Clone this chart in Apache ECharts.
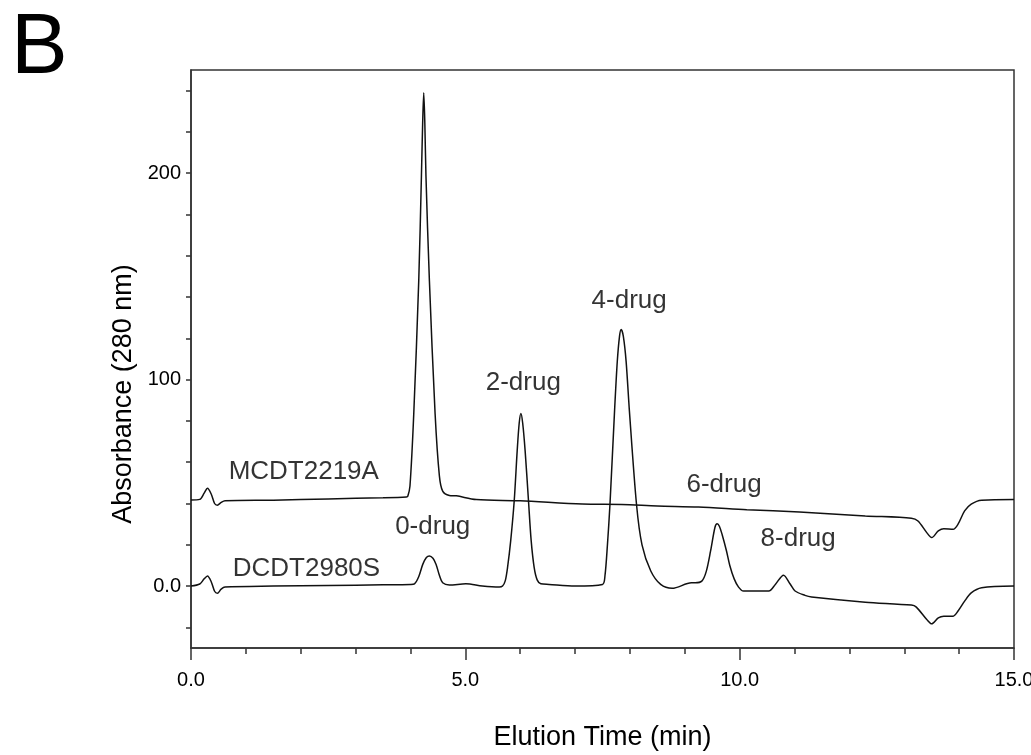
<!DOCTYPE html>
<html>
<head>
<meta charset="utf-8">
<script src="https://cdn.jsdelivr.net/npm/echarts@6/dist/echarts.min.js"></script>
<style>
html,body{margin:0;padding:0;background:#fff;}
#chart{width:1031px;height:755px;}
</style>
</head>
<body>
<div id="chart"></div>
<script>
// ---- data ----
const mcdtTime = [0.00,0.16,0.24,0.30,0.37,0.43,0.48,0.55,0.62,1.50,2.50,3.50,3.927,3.951,3.991,4.06,4.151,4.20,4.222,4.242,4.262,4.282,4.345,4.449,4.527,4.587,4.709,4.836,5.20,6.00,7.13,7.85,8.50,9.25,10.13,11.09,12.29,13.13,13.25,13.41,13.50,13.62,13.72,13.89,13.98,14.10,14.22,14.41,15.00];
const mcdtAbs  = [41.7,42.0,45.0,47.4,44.5,40.0,39.2,40.5,41.3,41.6,42.2,42.8,43.2,43.5,48.5,83.5,148,199,224,239,224,199,148,83.5,53.4,46.0,43.9,43.7,41.9,41.3,39.7,39.5,38.8,38.3,37.0,35.9,34.0,32.9,31.5,25.9,23.5,26.7,27.8,27.5,30.0,36.4,39.7,41.6,41.9];

const dcdtTime = [0.00,0.16,0.24,0.30,0.37,0.43,0.48,0.55,0.62,1.50,2.50,3.50,4.00,4.073,4.15,4.224,4.29,4.345,4.41,4.467,4.53,4.587,4.709,5.01,5.31,5.62,5.678,5.727,5.769,5.827,5.891,5.945,5.982,6.013,6.045,6.09,6.151,6.20,6.255,6.309,6.376,6.527,7.00,7.50,7.545,7.59,7.636,7.72,7.77,7.81,7.84,7.88,7.93,7.99,8.12,8.22,8.38,8.56,8.77,9.12,9.19,9.31,9.39,9.47,9.55,9.59,9.63,9.68,9.76,9.82,9.90,9.98,10.07,10.53,10.65,10.80,10.92,11.01,11.19,11.31,12.29,13.13,13.22,13.41,13.50,13.62,13.72,13.89,13.98,14.10,14.22,14.41,15.00];
const dcdtAbs  = [0.0,1.0,3.5,4.9,2.0,-2.5,-3.5,-1.5,-0.5,0.0,0.3,0.6,0.8,1.1,4.5,10.5,13.8,14.6,13.5,10.5,5.0,1.6,0.5,1.1,0.0,-0.5,0.0,2.5,8.9,22,41.3,65.5,79,83.6,79,65.5,41.3,22,8.9,3.0,1.1,0.8,0.0,0.8,5.0,20,39.5,85,109,121,124.3,121,109,85,39.5,20,7.3,0.8,-1.1,1.6,1.6,2.4,7.0,17,28.5,30.2,29.0,25,17,10,3.5,-0.5,-2.4,-2.4,0.8,5.3,1.0,-2.4,-4.5,-5.3,-7.8,-9.2,-10.2,-16.2,-18.3,-15.4,-14.6,-14.6,-12.1,-7.3,-3.3,-0.8,0.0];

const annoText = ['MCDT2219A','DCDT2980S','0-drug','2-drug','4-drug','6-drug','8-drug'];
const annoTime = [0.695,0.77,3.73,5.38,7.31,9.04,10.39];
const annoAbs  = [55.3,8.25,28.3,98,137.7,48.8,22.5];

const xTickLabels = [0,5,10,15];
const yTickValues = [-20,0,20,40,60,80,100,120,140,160,180,200,220,240];
const yLabelValues = [0,100,200];

// ---- build ----
const pair = (ts, vs) => ts.map((t, i) => [t, vs[i]]);
const FONT = '"Liberation Sans", Arial, Helvetica, sans-serif';
const INK = '#000';
const AXIS = '#333';

const chart = echarts.init(document.getElementById('chart'), null, {renderer: 'canvas'});
chart.setOption({
  backgroundColor: '#fff',
  animation: false,
  textStyle: {fontFamily: FONT},
  title: {
    text: 'B', left: 6, top: 2,
    textStyle: {fontSize: 85, fontWeight: 'normal', color: '#000', fontFamily: FONT}
  },
  grid: {
    left: 191, right: 17, top: 70, bottom: 107,
    outerBoundsMode: 'none', containLabel: false,
    show: true, borderColor: AXIS, borderWidth: 1.5, backgroundColor: 'transparent'
  },
  xAxis: {
    type: 'value', min: 0, max: 15, interval: 5,
    name: 'Elution Time (min)', nameLocation: 'middle', nameGap: 76,
    nameTextStyle: {fontSize: 27, color: INK, fontFamily: FONT},
    axisLine: {show: true, onZero: false, lineStyle: {color: AXIS, width: 1.5}},
    axisTick: {show: true, inside: false, length: 12, lineStyle: {color: AXIS, width: 1.5}},
    minorTick: {show: true, splitNumber: 5, length: 6, lineStyle: {color: AXIS, width: 1.5}},
    splitLine: {show: false}, minorSplitLine: {show: false},
    axisLabel: {
      margin: 22, fontSize: 20, color: INK, fontFamily: FONT,
      formatter: v => (xTickLabels.indexOf(v) >= 0 ? v.toFixed(1) : '')
    }
  },
  yAxis: {
    type: 'value', min: -30, max: 250,
    name: 'Absorbance (280 nm)', nameLocation: 'middle', nameGap: 52, nameRotate: 90,
    nameTextStyle: {fontSize: 27, color: INK, fontFamily: FONT, padding: [0, 70, 0, 0]},
    axisLine: {show: true, onZero: false, lineStyle: {color: AXIS, width: 1.5}},
    axisTick: {show: true, inside: false, length: 5, customValues: yTickValues, lineStyle: {color: AXIS, width: 1.5}},
    splitLine: {show: false},
    axisLabel: {
      margin: 10, fontSize: 20, color: INK, fontFamily: FONT,
      customValues: yLabelValues,
      formatter: v => (v === 0 ? '0.0' : String(v))
    }
  },
  series: [
    {
      name: 'MCDT2219A', type: 'line', data: pair(mcdtTime, mcdtAbs),
      showSymbol: false, smooth: 0.3, clip: true,
      lineStyle: {color: '#111', width: 1.5}
    },
    {
      name: 'DCDT2980S', type: 'line', data: pair(dcdtTime, dcdtAbs),
      showSymbol: false, smooth: 0.3, clip: true,
      lineStyle: {color: '#111', width: 1.5}
    },
    {
      name: 'labels', type: 'scatter', symbolSize: 1,
      itemStyle: {color: 'rgba(0,0,0,0)'},
      data: annoText.map((s, i) => ({name: s, value: [annoTime[i], annoAbs[i]]})),
      label: {
        show: true, formatter: '{b}', position: [0, 0],
        align: 'left', verticalAlign: 'middle',
        fontSize: 26, color: INK, fontFamily: FONT
      },
      labelLayout: {hideOverlap: false},
      silent: true, z: 5
    }
  ]
});
</script>
</body>
</html>
